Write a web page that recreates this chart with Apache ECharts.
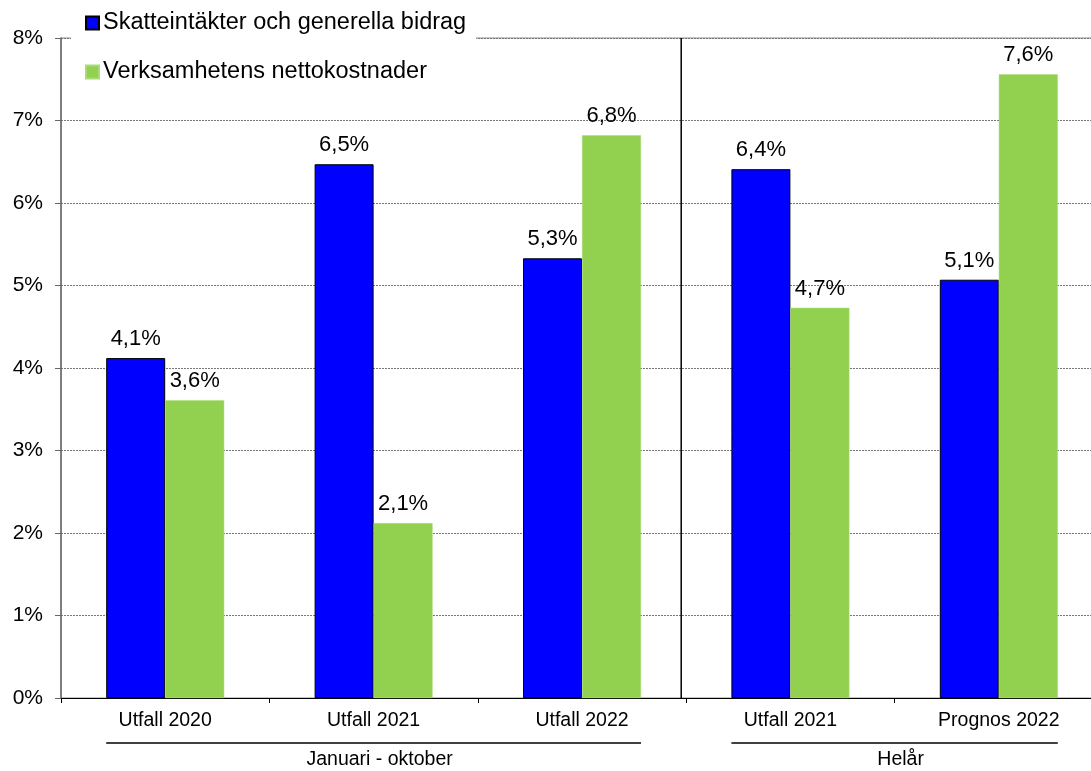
<!DOCTYPE html>
<html>
<head>
<meta charset="utf-8">
<script src="https://cdn.jsdelivr.net/npm/echarts@6/dist/echarts.min.js"></script>
<style>
html,body{margin:0;padding:0;background:#fff;overflow:hidden;width:1091px;height:771px;}
#chart{width:1103px;height:771px;}
</style>
</head>
<body>
<div id="chart"></div>
<script>
const categories = ['Utfall 2020', 'Utfall 2021', 'Utfall 2022', 'Utfall 2021', 'Prognos 2022'];
const seriesNames = ['Skatteintäkter och generella bidrag', 'Verksamhetens nettokostnader'];
const skatteintakter = [4.12, 6.47, 5.33, 6.41, 5.07];
const nettokostnader = [3.61, 2.12, 6.82, 4.73, 7.56];
const yTicks = [0, 1, 2, 3, 4, 5, 6, 7, 8];
const groups = [
  { label: 'Januari - oktober', from: 0, to: 2 },
  { label: 'Helår', from: 3, to: 4 }
];
const dividerAfter = 2;

const FONT = '"Liberation Sans", Arial, sans-serif';
const BAR_W = 59;
const fmt = v => (Math.round(v * 10) / 10).toFixed(1).replace('.', ',') + '%';

const chart = echarts.init(document.getElementById('chart'), null, { renderer: 'canvas' });

const labelStyle = {
  show: true,
  position: 'top',
  distance: 8,
  color: '#000',
  fontFamily: FONT,
  fontSize: 22,
  formatter: p => fmt(p.value)
};

chart.setOption({
  animation: false,
  backgroundColor: '#fff',
  textStyle: { fontFamily: FONT },
  grid: {
    left: 61, right: 0, top: 38, bottom: 73,
    show: true, borderColor: '#8a8a8a', borderWidth: 1, backgroundColor: 'transparent'
  },
  legend: {
    orient: 'vertical',
    left: 71, top: 0,
    padding: [11, 10, 15, 14],
    itemGap: 25,
    itemWidth: 13, itemHeight: 13,
    backgroundColor: '#fff',
    icon: 'rect',
    textStyle: { fontFamily: FONT, fontSize: 23.5, color: '#000', padding: [0, 0, 0, -1] },
    data: seriesNames
  },
  xAxis: {
    type: 'category',
    data: categories,
    boundaryGap: true,
    axisLine: { lineStyle: { color: '#000', width: 1 } },
    axisTick: { show: true, length: 5, lineStyle: { color: '#000' } },
    axisLabel: { color: '#000', fontFamily: FONT, fontSize: 19.5, margin: 13 },
    splitLine: { show: false }
  },
  yAxis: {
    type: 'value',
    min: yTicks[0], max: yTicks[yTicks.length - 1], interval: 1,
    axisLine: { show: true, lineStyle: { color: '#666', width: 1.5 } },
    axisTick: { show: true, length: 6, inside: false, lineStyle: { color: '#666' } },
    axisLabel: { color: '#000', fontFamily: FONT, fontSize: 21, margin: 18, formatter: v => v + '%' },
    splitLine: { show: true, lineStyle: { color: '#777', type: [2, 1], width: 1 } }
  },
  series: [
    {
      name: seriesNames[0], type: 'bar', data: skatteintakter,
      barWidth: BAR_W, barGap: '0%',
      itemStyle: { color: '#0000FF', borderColor: '#000', borderWidth: 1 },
      label: labelStyle
    },
    {
      name: seriesNames[1], type: 'bar', data: nettokostnader,
      barWidth: BAR_W, barGap: '0%',
      itemStyle: { color: '#92D050', borderColor: '#a8dc78', borderWidth: 0.5 },
      label: labelStyle
    }
  ]
});

// Annotations placed from the axis scales
const y0 = chart.convertToPixel({ yAxisIndex: 0 }, yTicks[0]);
const yTop = chart.convertToPixel({ yAxisIndex: 0 }, yTicks[yTicks.length - 1]);
const cx = i => chart.convertToPixel({ xAxisIndex: 0 }, i);
const graphics = [];
const xDiv = (cx(dividerAfter) + cx(dividerAfter + 1)) / 2 - 5;
graphics.push({
  type: 'line', z: 10,
  shape: { x1: xDiv, y1: yTop, x2: xDiv, y2: y0 },
  style: { stroke: '#000', lineWidth: 1.5 }
});
groups.forEach(g => {
  const x1 = cx(g.from) - BAR_W;
  const x2 = cx(g.to) + BAR_W;
  graphics.push({
    type: 'line',
    shape: { x1: x1, y1: y0 + 45, x2: x2, y2: y0 + 45 },
    style: { stroke: '#000', lineWidth: 1.5 }
  });
  graphics.push({
    type: 'text',
    x: (x1 + x2) / 2 + 6, y: y0 + 62,
    style: { text: g.label, font: '19.5px ' + FONT, fill: '#000', textAlign: 'center', textVerticalAlign: 'middle' }
  });
});
chart.setOption({ graphic: graphics });
</script>
</body>
</html>
